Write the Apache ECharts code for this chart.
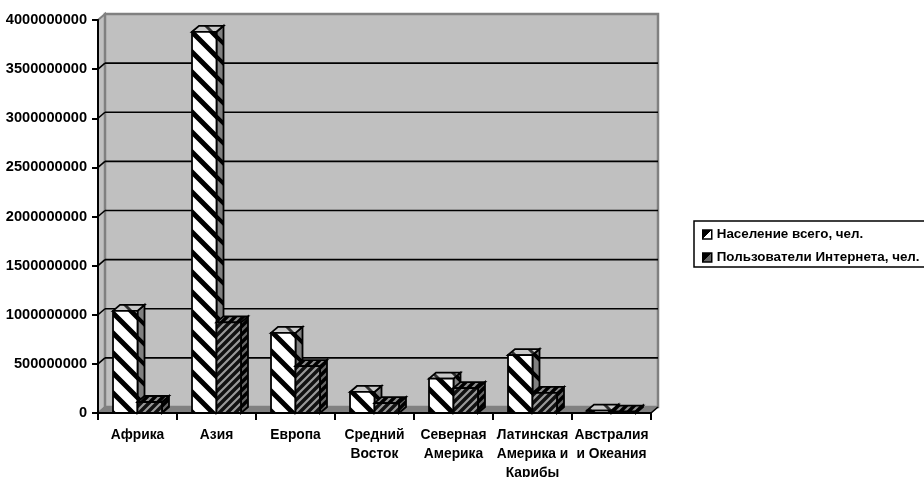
<!DOCTYPE html>
<html><head><meta charset="utf-8">
<style>html,body{margin:0;padding:0;background:#fff}#c{width:924px;height:477px;overflow:hidden}</style>
<script src="https://cdn.jsdelivr.net/npm/echarts@6/dist/echarts.min.js"></script>
</head><body><div id="c"></div>
<script>
const categories = ['Африка','Азия','Европа','Средний\nВосток','Северная\nАмерика','Латинская\nАмерика и\nКарибы','Австралия\nи Океания'];
const population = [1040000000,3880000000,815000000,214000000,350000000,590000000,25000000];
const internet = [112000000,922000000,478000000,100000000,254000000,204000000,15000000];
const yTicks = [0,500000000,1000000000,1500000000,2000000000,2500000000,3000000000,3500000000,4000000000];
const nameA = 'Население всего, чел.';
const nameB = 'Пользователи Интернета, чел.';
const DX = 7, DY = 6;
function tile(size, bg, fg, lw, dir){
  const c = document.createElement('canvas'); c.width = c.height = size;
  const x = c.getContext('2d'); x.fillStyle = bg; x.fillRect(0,0,size,size);
  x.strokeStyle = fg; x.lineWidth = lw; x.beginPath();
  for(let k=-2;k<=2;k++){
    if(dir>0){ x.moveTo(k*size-size,-size); x.lineTo(k*size+2*size,2*size); }
    else { x.moveTo(k*size+2*size,-size); x.lineTo(k*size-size,2*size); }
  }
  x.stroke();
  return {image:c, repeat:'repeat'};
}
const styles = [
 {front:tile(20,'#ffffff','#000000',5,1), side:tile(20,'#808080','#000000',4,1), top:tile(20,'#c8c8c8','#303030',3,1)},
 {front:tile(8,'#9a9a9a','#111111',3.5,-1), side:tile(8,'#686868','#000000',3.5,-1), top:tile(8,'#8c8c8c','#000000',3.5,-1)}
];
function barRenderer(idx){
  return function(params, api){
    const i = api.value(0), v = api.value(1);
    const w = api.size([1,0])[0];
    const bw = w*0.31;
    const base = api.coord([i,0]);
    const top = api.coord([i,v]);
    const x0 = base[0] - bw + idx*bw, x1 = x0 + bw, yb = base[1], yt = top[1];
    const st = styles[idx];
    const line = {stroke:'#000', lineWidth:1.8, lineJoin:'miter'};
    return {type:'group', children:[
      {type:'polygon', shape:{points:[[x1,yb],[x1+DX,yb-DY],[x1+DX,yt-DY],[x1,yt]]}, style:Object.assign({fill:st.side},line)},
      {type:'polygon', shape:{points:[[x0,yt],[x0+DX,yt-DY],[x1+DX,yt-DY],[x1,yt]]}, style:Object.assign({fill:st.top},line)},
      {type:'rect', shape:{x:x0,y:yt,width:bw,height:yb-yt}, style:Object.assign({fill:st.front},line)}
    ]};
  };
}
function wallRenderer(params, api){
  const a = api.coord([0,0]), w = api.size([1,0])[0];
  const left = a[0]-w/2, right = left + w*categories.length, bot = a[1];
  const topY = api.coord([0,yTicks[yTicks.length-1]])[1];
  const kids = [
    {type:'polygon', shape:{points:[[left,bot],[left+DX,bot-DY],[left+DX,topY-DY],[left,topY]]}, style:{fill:'#c0c0c0',stroke:'#808080',lineWidth:2}},
    {type:'rect', shape:{x:left+DX,y:topY-DY,width:right-left,height:bot-topY}, style:{fill:'#c0c0c0',stroke:'#808080',lineWidth:2.5}},
    {type:'polygon', shape:{points:[[left,bot],[left+DX,bot-DY],[right+DX,bot-DY],[right,bot]]}, style:{fill:'#808080',stroke:'#808080',lineWidth:1}},
    {type:'line', shape:{x1:right,y1:bot,x2:right+DX,y2:bot-DY}, style:{stroke:'#000',lineWidth:1.6}}
  ];
  yTicks.forEach(function(t,n){
    const y = api.coord([0,t])[1];
    if(n>0 && n<yTicks.length-1){
      kids.push({type:'line', shape:{x1:left,y1:y,x2:left+DX,y2:y-DY}, style:{stroke:'#000',lineWidth:1.6}});
      kids.push({type:'line', shape:{x1:left+DX,y1:y-DY,x2:right+DX,y2:y-DY}, style:{stroke:'#000',lineWidth:1.6}});
    }
  });
  return {type:'group', children:kids};
}
function iconFill(c1,c2){
  return new echarts.graphic.LinearGradient(0,0,1,1,[{offset:0,color:c1},{offset:0.5,color:c1},{offset:0.5,color:c2},{offset:1,color:c2}]);
}
const chart = echarts.init(document.getElementById('c'), null, {renderer:'canvas'});
const font = {fontFamily:'Liberation Sans', fontWeight:'bold', color:'#000'};
chart.setOption({
  animation:false,
  backgroundColor:'#fff',
  grid:{left:98, right:273, top:20, bottom:64, outerBoundsMode:'none'},
  legend:{
    left:694, top:221, orient:'vertical', itemWidth:9, itemHeight:9, itemGap:10,
    borderColor:'#000', borderWidth:1.5, padding:[7,20,3,8], selectedMode:false,
    textStyle:Object.assign({fontSize:13.4},font),
    data:[
      {name:nameA, icon:'rect', itemStyle:{color:iconFill('#000','#fff'),borderColor:'#000',borderWidth:1.5,decal:'none'}},
      {name:nameB, icon:'rect', itemStyle:{color:iconFill('#000','#666'),borderColor:'#000',borderWidth:1.5,decal:'none'}}
    ]
  },
  xAxis:{type:'category', data:categories, z:5,
    axisLine:{lineStyle:{color:'#000',width:2}},
    axisTick:{show:true, length:7, alignWithLabel:false, lineStyle:{color:'#000',width:2}},
    axisLabel:Object.assign({interval:0, fontSize:13.8, lineHeight:19, margin:13},font)
  },
  yAxis:{type:'value', min:0, max:4000000000, interval:500000000, z:5,
    axisLine:{show:true, lineStyle:{color:'#000',width:2}},
    axisTick:{show:true, length:6, lineStyle:{color:'#000',width:2}},
    splitLine:{show:false},
    axisLabel:Object.assign({fontSize:14.6, margin:11, formatter:function(v){return String(v);}},font)
  },
  series:[
    {type:'custom', name:'wall', silent:true, z:1, renderItem:wallRenderer, data:[[0,0]], encode:{x:0,y:1}},
    {type:'custom', name:nameA, z:2, renderItem:barRenderer(0), encode:{x:0,y:1},
      data:population.map(function(v,i){return [i,v];})},
    {type:'custom', name:nameB, z:2, renderItem:barRenderer(1), encode:{x:0,y:1},
      data:internet.map(function(v,i){return [i,v];})}
  ]
});
</script></body></html>
